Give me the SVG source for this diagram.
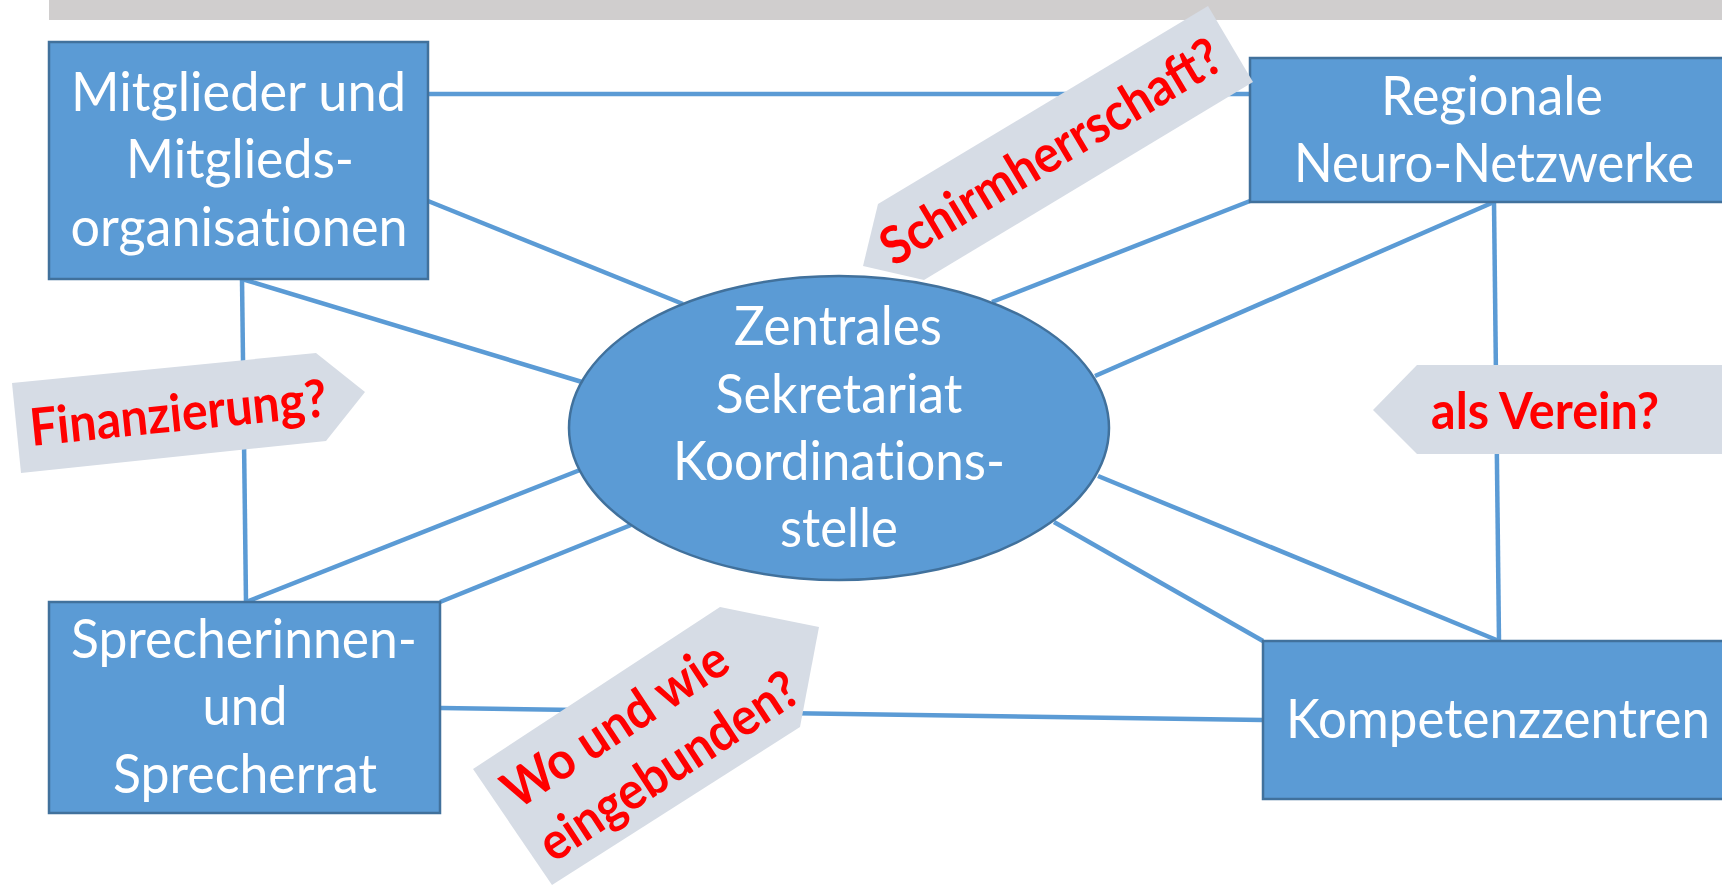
<svg xmlns="http://www.w3.org/2000/svg" width="1722" height="886" viewBox="0 0 1722 886">
<style>
.node{fill:#5B9BD5;stroke:#41719C;stroke-width:2.5}
.lbl{font-family:Lato,"Open Sans","Liberation Sans",sans-serif;font-size:54px;fill:#FFFFFF;text-anchor:middle;font-variant-ligatures:none}
.conn line{stroke:#5B9BD5;stroke-width:4.5;stroke-linecap:butt}
.call{fill:#D6DCE5}
.ctext{font-family:Lato,"Open Sans","Liberation Sans",sans-serif;font-size:52px;font-weight:bold;fill:#FF0000;text-anchor:middle}
</style>
<rect x="0" y="0" width="1722" height="886" fill="#FFFFFF"/>
<rect x="49" y="0" width="1673" height="20" fill="#D0CECE"/>
<g id="connectors" class="conn">
<line x1="428" y1="94" x2="1250" y2="94"/>
<line x1="428" y1="201" x2="683" y2="304"/>
<line x1="242" y1="279" x2="582" y2="382"/>
<line x1="242" y1="279" x2="246" y2="602"/>
<line x1="1250" y1="201" x2="992" y2="302"/>
<line x1="1494" y1="202" x2="1095" y2="376"/>
<line x1="1494" y1="202" x2="1499" y2="641"/>
<line x1="580" y1="470" x2="246" y2="602"/>
<line x1="631" y1="525" x2="440" y2="602"/>
<line x1="1098" y1="476" x2="1499" y2="641"/>
<line x1="1054" y1="522" x2="1263" y2="641"/>
<line x1="441" y1="708" x2="1263" y2="720"/>
</g>
<g id="node-mitglieder">
<rect class="node" x="49" y="42" width="379" height="237"/>
<text class="lbl" x="238.5" y="111" textLength="335" lengthAdjust="spacingAndGlyphs">Mitglieder und</text>
<text class="lbl" x="240" y="178" textLength="228" lengthAdjust="spacingAndGlyphs">Mitglieds-</text>
<text class="lbl" x="239" y="246" textLength="337" lengthAdjust="spacingAndGlyphs">organisationen</text>
</g>
<g id="node-regionale">
<rect class="node" x="1250" y="58" width="490" height="144"/>
<text class="lbl" x="1492" y="115" textLength="222" lengthAdjust="spacingAndGlyphs">Regionale</text>
<text class="lbl" x="1494" y="182" textLength="400" lengthAdjust="spacingAndGlyphs">Neuro-Netzwerke</text>
</g>
<g id="node-sekretariat">
<ellipse class="node" cx="839" cy="428" rx="270" ry="152"/>
<text class="lbl" x="838" y="345" textLength="208" lengthAdjust="spacingAndGlyphs">Zentrales</text>
<text class="lbl" x="839" y="413" textLength="247" lengthAdjust="spacingAndGlyphs">Sekretariat</text>
<text class="lbl" x="839" y="480" textLength="332" lengthAdjust="spacingAndGlyphs">Koordinations-</text>
<text class="lbl" x="839" y="547" textLength="118" lengthAdjust="spacingAndGlyphs">stelle</text>
</g>
<g id="node-sprecher">
<rect class="node" x="49" y="602" width="391" height="211"/>
<text class="lbl" x="244" y="658" textLength="346" lengthAdjust="spacingAndGlyphs">Sprecherinnen-</text>
<text class="lbl" x="245" y="725" textLength="85" lengthAdjust="spacingAndGlyphs">und</text>
<text class="lbl" x="245" y="793" textLength="264" lengthAdjust="spacingAndGlyphs">Sprecherrat</text>
</g>
<g id="node-kompetenz">
<rect class="node" x="1263" y="641" width="480" height="158"/>
<text class="lbl" x="1498" y="738" textLength="424" lengthAdjust="spacingAndGlyphs">Kompetenzzentren</text>
</g>
<g id="callout-schirmherrschaft">
<polygon class="call" points="878,204 1208,6 1253,82 924,280 863,266"/>
<text class="ctext" transform="translate(1060,167) rotate(-31)" x="0" y="0" textLength="388" lengthAdjust="spacingAndGlyphs">Schirmherrschaft?</text>
</g>
<g id="callout-finanzierung">
<polygon class="call" points="12,383 316,353 365,392 326,441 21,473"/>
<text class="ctext" transform="translate(180,431) rotate(-5.8)" x="0" y="0" textLength="298" lengthAdjust="spacingAndGlyphs">Finanzierung?</text>
</g>
<g id="callout-verein">
<polygon class="call" points="1373,410 1417,365 1722,365 1722,454 1417,454"/>
<text class="ctext" x="1545" y="429" textLength="228" lengthAdjust="spacingAndGlyphs">als Verein?</text>
</g>
<g id="callout-eingebunden">
<polygon class="call" points="473,769 720,607 819,627 800,727 552,885"/>
<g transform="translate(643,747) rotate(-33.3)">
<text class="ctext" x="-11" y="-16" textLength="258" lengthAdjust="spacingAndGlyphs">Wo und wie</text>
<text class="ctext" x="11" y="48" textLength="300" lengthAdjust="spacingAndGlyphs">eingebunden?</text>
</g>
</g>
</svg>
